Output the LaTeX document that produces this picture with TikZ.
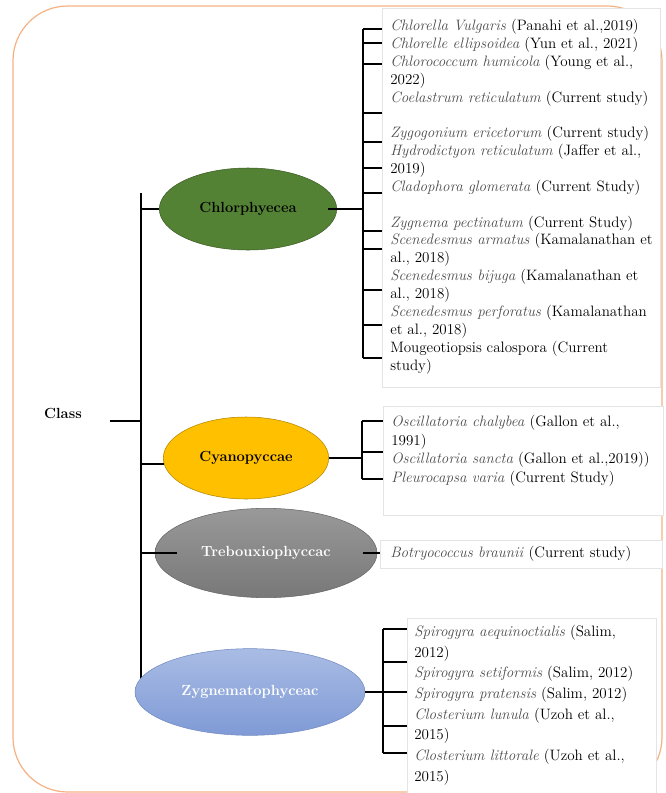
\documentclass[tikz,border=0pt]{standalone}
\usepackage{tikz}
\usetikzlibrary{shapes.geometric, positioning}
\definecolor{frameorange}{HTML}{F4B183}
\definecolor{chlgreen}{HTML}{548235}
\definecolor{cyayellow}{HTML}{FFC000}
\definecolor{boxgray}{HTML}{E4E4E4}
\definecolor{zygtop}{HTML}{A9BCE4}
\definecolor{zygbot}{HTML}{7F9AD6}
\newcommand{\taxon}[1]{\textcolor{black!70}{\textit{#1}}}
\pgfdeclarelayer{background}
\pgfsetlayers{background,main}

\begin{document}
\begin{tikzpicture}[x=0.75pt, y=-0.75pt,
    cls/.style={ellipse, inner sep=0, font=\fontsize{11}{13}\selectfont\bfseries},
    listbox/.style={draw=boxgray, fill=white, anchor=north west, inner sep=0},
    listtext/.style={anchor=north west, align=left, inner sep=0, font=\fontsize{11.3}{#1}\selectfont},
    tree/.style={line width=1.3pt, black}
]
\useasboundingbox (0,0) rectangle (665,793);
\draw[frameorange, line width=0.9pt, rounded corners=41pt] (13,6) rectangle (662,792);

% class ellipses
\node[cls, fill=chlgreen, draw=chlgreen!70!black, minimum width=133pt, minimum height=61.5pt] (chl) at (248,209) {Chlorphyecea};
\node[cls, fill=cyayellow, draw=cyayellow!70!black, minimum width=124pt, minimum height=61.5pt] (cya) at (246,458) {Cyanopyccae};
\node[cls, top color=black!40, bottom color=black!53, draw=black!60, text=white, minimum width=166.5pt, minimum height=67pt] (treb) at (266,553) {Trebouxiophyccac};
\node[cls, top color=zygtop, bottom color=zygbot, draw=zygbot!90!black, text=white, minimum width=172.5pt, minimum height=65pt] (zyg) at (250,692) {Zygnematophyceac};
\node[font=\fontsize{11}{13}\selectfont\bfseries] (class) at (63,413) {Class};

% species boxes
\node[listbox, minimum width=208.5pt, minimum height=284pt] (chlBox) at (382,8) {};
\node[listtext=13.4pt] (chlList) at (390,19) {%
\taxon{Chlorella Vulgaris} (Panahi et al.,2019)\\
\taxon{Chlorelle ellipsoidea} (Yun et al., 2021)\\
\taxon{Chlorococcum humicola} (Young et al.,\\
2022)\\
\taxon{Coelastrum reticulatum} (Current study)\\[13.4pt]
\taxon{Zygogonium ericetorum} (Current study)\\
\taxon{Hydrodictyon reticulatum} (Jaffer et al.,\\
2019)\\
\taxon{Cladophora glomerata} (Current Study)\\[13.4pt]
\taxon{Zygnema pectinatum} (Current Study)\\
\taxon{Scenedesmus armatus} (Kamalanathan et\\
al., 2018)\\
\taxon{Scenedesmus bijuga} (Kamalanathan et\\
al., 2018)\\
\taxon{Scenedesmus perforatus} (Kamalanathan\\
et al., 2018)\\
Mougeotiopsis calospora (Current\\
study)};

\node[listbox, minimum width=210pt, minimum height=82pt] (cyaBox) at (383,406) {};
\node[listtext=14pt] (cyaList) at (391,415) {%
\taxon{Oscillatoria chalybea} (Gallon et al.,\\
1991)\\
\taxon{Oscillatoria sancta} (Gallon et al.,2019))\\
\taxon{Pleurocapsa varia} (Current Study)};

\node[listbox, minimum width=211.5pt, minimum height=21pt] (trebBox) at (380,540) {};
\node[listtext=13.4pt, anchor=west] (trebList) at (390,554) {\taxon{Botryococcus braunii} (Current study)};

\node[listbox, minimum width=187pt, minimum height=131pt] (zygBox) at (407,618) {};
\node[listtext=15.5pt] (zygList) at (414,625) {%
\taxon{Spirogyra aequinoctialis} (Salim,\\
2012)\\
\taxon{Spirogyra setiformis} (Salim, 2012)\\
\taxon{Spirogyra pratensis} (Salim, 2012)\\
\taxon{Closterium lunula} (Uzoh et al.,\\
2015)\\
\taxon{Closterium littorale} (Uzoh et al.,\\
2015)};

% main trunk
\coordinate (trunkTop) at (141,193);
\coordinate (classTick) at (110,421);
\begin{pgfonlayer}{background}
\draw[tree] (trunkTop) -- (trunkTop |- zyg.center);
\end{pgfonlayer}
\draw[tree] (classTick) -- (classTick -| trunkTop);
\draw[tree] (trunkTop |- chl.west) -- (chl.west);
\draw[tree] (trunkTop |- cya.184) -- (cya.184);
\draw[tree] (trunkTop |- treb.west) -- ([xshift=16.5pt]treb.west);

% Chlorphyecea bracket
\coordinate (chlFork) at (363,209);
\draw[tree] ([xshift=-7pt]chl.east) -- (chl.east -| chlFork);
\draw[tree] (chlFork |- 0,29) -- (chlFork |- 0,358);
\foreach \y in {29,43,64,113,142,168,193,231,249,290,325,358}
  \draw[tree] (chlFork |- 0,\y) -- (chlBox.west |- 0,\y);

% Cyanopyccae bracket
\coordinate (cyaFork) at (362,458);
\draw[tree] (cya.east) -- (cya.east -| cyaFork);
\draw[tree] (cyaFork |- 0,421) -- (cyaFork |- 0,479);
\foreach \y in {421,452,479}
  \draw[tree] (cyaFork |- 0,\y) -- (cyaBox.west |- 0,\y);

% Trebouxiophyccac stub
\draw[tree] ([xshift=-11pt]treb.east) -- (treb.east -| trebBox.west);

% Zygnematophyceac bracket
\coordinate (zygFork) at (383,692);
\draw[tree] (zyg.east) -- (zyg.east -| zygFork);
\draw[tree] (zygFork |- 0,629) -- (zygFork |- 0,753);
\foreach \y in {629,662,692,726,753}
  \draw[tree] (zygFork |- 0,\y) -- (zygBox.west |- 0,\y);
\end{tikzpicture}
\end{document}
